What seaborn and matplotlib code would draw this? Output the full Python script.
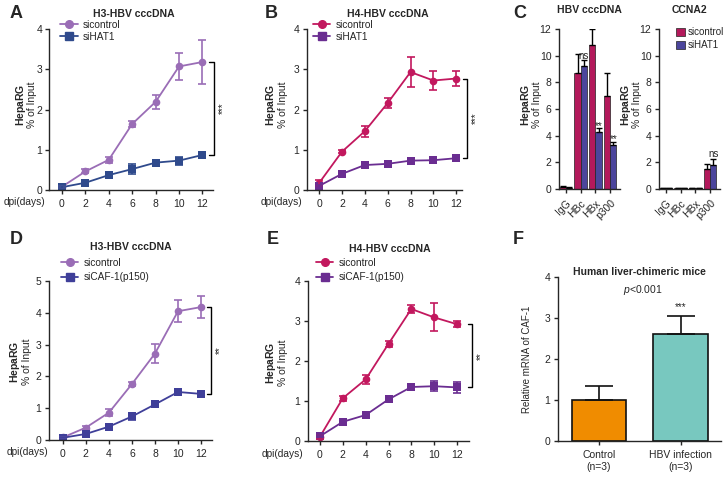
import numpy as np
import pandas as pd
import matplotlib
matplotlib.use("Agg")
import matplotlib.pyplot as plt
import seaborn as sns
from matplotlib.lines import Line2D
from matplotlib.patches import Patch

sns.set_style("ticks")
plt.rcParams['font.family'] = ['Liberation Sans', 'DejaVu Sans']
plt.rcParams['mathtext.fontset'] = 'custom'
plt.rcParams['mathtext.rm'] = 'Liberation Sans'
plt.rcParams['mathtext.bf'] = 'Liberation Sans:bold'
plt.rcParams['mathtext.it'] = 'Liberation Sans:italic'
plt.rcParams['axes.linewidth'] = 1.0
plt.rcParams['xtick.major.width'] = 1.0
plt.rcParams['ytick.major.width'] = 1.0
plt.rcParams['xtick.major.size'] = 3
plt.rcParams['ytick.major.size'] = 3
plt.rcParams['ytick.major.pad'] = 2.5
plt.rcParams['xtick.labelsize'] = 7.5
plt.rcParams['ytick.labelsize'] = 7.5

# time course data
dpi = [0, 2, 4, 6, 8, 10, 12]

a_ctrl = [0.08, 0.46, 0.75, 1.64, 2.19, 3.07, 3.18]
a_ctrl_err = [0.03, 0.05, 0.08, 0.08, 0.17, 0.34, 0.54]
a_kd = [0.07, 0.18, 0.37, 0.52, 0.68, 0.73, 0.87]
a_kd_err = [0.02, 0.03, 0.04, 0.13, 0.07, 0.10, 0.07]

b_ctrl = [0.17, 0.95, 1.46, 2.16, 2.93, 2.72, 2.77]
b_ctrl_err = [0.08, 0.04, 0.14, 0.13, 0.37, 0.24, 0.18]
b_kd = [0.10, 0.40, 0.62, 0.65, 0.73, 0.74, 0.79]
b_kd_err = [0.03, 0.04, 0.07, 0.04, 0.04, 0.04, 0.07]

d_ctrl = [0.08, 0.39, 0.86, 1.76, 2.72, 4.05, 4.18]
d_ctrl_err = [0.03, 0.05, 0.10, 0.06, 0.30, 0.35, 0.35]
d_kd = [0.07, 0.19, 0.42, 0.74, 1.12, 1.51, 1.45]
d_kd_err = [0.02, 0.05, 0.04, 0.10, 0.06, 0.07, 0.07]

e_ctrl = [0.11, 1.07, 1.54, 2.43, 3.30, 3.09, 2.92]
e_ctrl_err = [0.05, 0.06, 0.12, 0.07, 0.11, 0.35, 0.07]
e_kd = [0.12, 0.48, 0.65, 1.04, 1.35, 1.37, 1.34]
e_kd_err = [0.03, 0.03, 0.04, 0.05, 0.07, 0.13, 0.13]

# ChIP bar data
targets = ["IgG", "HBc", "HBx", "p300"]
c1_ctrl = [0.15, 8.7, 10.8, 7.0]
c1_ctrl_err = [0.05, 1.4, 1.2, 1.7]
c1_kd = [0.10, 9.2, 4.3, 3.3]
c1_kd_err = [0.05, 0.5, 0.25, 0.2]
c2_ctrl = [0.05, 0.05, 0.05, 1.5]
c2_ctrl_err = [0.0, 0.0, 0.0, 0.4]
c2_kd = [0.05, 0.05, 0.05, 1.78]
c2_kd_err = [0.0, 0.0, 0.0, 0.47]

# mouse data
groups_f = ["Control\n(n=3)", "HBV infection\n(n=3)"]
f_vals = [1.0, 2.6]
f_err = [0.35, 0.44]

W, H = 728, 478
fig = plt.figure(figsize=(W / 100, H / 100), dpi=100)


def add_ax(x0, x1, y0, y1):
    ax = fig.add_axes([x0 / W, 1 - y1 / H, (x1 - x0) / W, (y1 - y0) / H])
    ax.box_px = (x0, x1)
    return ax


def ylab(ax, xmid_px, yc):
    x0, x1 = ax.box_px
    xf = (xmid_px - x0) / (x1 - x0)
    ax.text(xf, yc, "$\\bf{HepaRG}$\n% of Input", transform=ax.transAxes, rotation=90,
            ha="center", va="center", multialignment="center", fontsize=7.5,
            linespacing=0.95)


def time_panel(ax, ctrl, ctrl_err, kd, kd_err, c1, c2, kd_name, ymax, xlim, title, tpos,
               lpos, lsp, star, bx, dlab, ylpos):
    df = pd.DataFrame({"dpi": dpi, "ctrl": ctrl, "kd": kd})
    sns.lineplot(data=df, x="dpi", y="ctrl", color=c1, marker="o", markersize=5.5,
                 markeredgewidth=0, linewidth=1.3, ax=ax, legend=False)
    sns.lineplot(data=df, x="dpi", y="kd", color=c2, marker="s", markersize=5.5,
                 markeredgewidth=0, linewidth=1.3, ax=ax, legend=False)
    ax.errorbar(dpi, ctrl, yerr=ctrl_err, fmt="none", ecolor=c1, elinewidth=1.2, capsize=3,
                capthick=1.2)
    ax.errorbar(dpi, kd, yerr=kd_err, fmt="none", ecolor=c2, elinewidth=1.2, capsize=3,
                capthick=1.2)
    ax.set_xlim(*xlim)
    ax.set_ylim(0, ymax)
    ax.set_xticks(dpi)
    ax.set_yticks(range(0, ymax + 1))
    ax.set_xlabel("")
    ax.set_ylabel("")
    sns.despine(ax=ax)
    ax.text(tpos[0], tpos[1], title, transform=ax.transAxes, ha="center", va="center",
            fontsize=7.5, fontweight="bold")
    handles = [Line2D([0], [0], color=c1, marker="o", markersize=5.5, lw=1.3),
               Line2D([0], [0], color=c2, marker="s", markersize=5.5, lw=1.3)]
    ax.legend(handles, ["sicontrol", kd_name], loc="upper left", bbox_to_anchor=lpos,
              frameon=False, fontsize=7.3, borderpad=0, handlelength=1.7, handletextpad=0.5,
              labelspacing=lsp, borderaxespad=0)
    # significance bracket
    top, bot = ctrl[-1], kd[-1]
    ax.plot([bx - 0.35, bx, bx, bx - 0.35], [top, top, bot, bot], color="black", lw=1.0,
            clip_on=False)
    ax.text(bx + 0.35, (top + bot) / 2, star, rotation=90, ha="left", va="center",
            fontsize=7, clip_on=False)
    ax.text(dlab[0], dlab[1], "dpi(days)", transform=ax.transAxes, ha="right", va="center",
            fontsize=7.3)
    ylab(ax, ylpos[0], ylpos[1])


# A
axA = add_ax(49, 213, 29, 190)
time_panel(axA, a_ctrl, a_ctrl_err, a_kd, a_kd_err, "#9a6db6", "#2f4a8c", "siHAT1", 4,
           (-1.1, 12.9), "H3-HBV cccDNA", (0.52, 1.093), (0.07, 1.058), 0.22, "***", 12.95,
           (-0.024, -0.075), (25.5, 0.53))
axA.tick_params(axis="y", pad=1.8)
# B
axB = add_ax(307, 462, 29, 190)
time_panel(axB, b_ctrl, b_ctrl_err, b_kd, b_kd_err, "#c2185e", "#6a2d91", "siHAT1", 4,
           (-1.05, 12.5), "H4-HBV cccDNA", (0.52, 1.093), (0.04, 1.058), 0.22, "***", 12.95,
           (-0.03, -0.075), (276, 0.53))
# D
axD = add_ax(49, 212, 281, 440)
time_panel(axD, d_ctrl, d_ctrl_err, d_kd, d_kd_err, "#9a6db6", "#3f3f99", "siCAF-1(p150)", 5,
           (-1.2, 12.95), "H3-HBV cccDNA", (0.5, 1.214), (0.074, 1.145), 0.42, "**", 12.85,
           (-0.006, -0.075), (20, 0.49))
# E
axE = add_ax(308, 469, 281, 441)
time_panel(axE, e_ctrl, e_ctrl_err, e_kd, e_kd_err, "#c2185e", "#6a2d91", "siCAF-1(p150)", 4,
           (-1.05, 13.05), "H4-HBV cccDNA", (0.51, 1.2), (0.05, 1.145), 0.42, "**", 13.3,
           (-0.03, -0.08), (276, 0.49))


# C
def chip_panel(ax, ctrl, ctrl_err, kd, kd_err, title, notes):
    df = pd.DataFrame({"target": targets * 2, "value": ctrl + kd,
                       "group": ["sicontrol"] * 4 + ["siHAT1"] * 4})
    sns.barplot(data=df, x="target", y="value", hue="group", palette=["#b3195b", "#4b459c"],
                width=0.86, errorbar=None, saturation=1, edgecolor="#222222", linewidth=0.5,
                ax=ax, legend=False)
    for cont, err in zip(ax.containers, [ctrl_err, kd_err]):
        xs = [b.get_x() + b.get_width() / 2 for b in cont]
        ys = [b.get_height() for b in cont]
        ax.errorbar(xs, ys, yerr=[np.zeros(len(err)), err], fmt="none", ecolor="black",
                    elinewidth=1.0, capsize=2, capthick=1.0)
    kd_x = [b.get_x() + b.get_width() / 2 for b in ax.containers[1]]
    for i, txt, yv in notes:
        ax.text(kd_x[i], yv, txt, ha="center", va="center", fontsize=7)
    ax.set_xlim(-0.48, 3.67)
    ax.set_ylim(0, 12)
    ax.set_yticks(range(0, 13, 2))
    ax.set_xlabel("")
    ax.set_ylabel("")
    ax.tick_params(axis="x", labelrotation=45)
    for t in ax.get_xticklabels():
        t.set_ha("right")
        t.set_rotation_mode("anchor")
    sns.despine(ax=ax)
    ax.text(0.5, 1.12, title, transform=ax.transAxes, ha="center", va="center", fontsize=7.5,
            fontweight="bold")
    x0 = ax.box_px[0]
    ylab(ax, x0 - 28.5, 0.525)


axC1 = add_ax(559, 620, 29, 189)
chip_panel(axC1, c1_ctrl, c1_ctrl_err, c1_kd, c1_kd_err, "HBV cccDNA",
           [(1, "ns", 9.95), (2, "**", 4.75), (3, "**", 3.75)])
axC2 = add_ax(659, 720, 29, 189)
chip_panel(axC2, c2_ctrl, c2_ctrl_err, c2_kd, c2_kd_err, "CCNA2", [(3, "ns", 2.6)])
axC2.legend([Patch(facecolor="#b3195b", edgecolor="#222222", lw=0.5),
             Patch(facecolor="#4b459c", edgecolor="#222222", lw=0.5)],
            ["sicontrol", "siHAT1"], loc="upper left", bbox_to_anchor=(0.28, 1.01),
            frameon=False, fontsize=7, borderpad=0, handlelength=0.9, handleheight=0.9,
            handletextpad=0.3, labelspacing=0.3, borderaxespad=0)

# F
axF = add_ax(558, 721, 277, 441)
dfF = pd.DataFrame({"group": groups_f, "value": f_vals})
sns.barplot(data=dfF, x="group", y="value", hue="group", palette=["#f08c00", "#78c8bf"],
            width=0.67, errorbar=None, saturation=1, edgecolor="#111111", linewidth=1.2,
            ax=axF, legend=False)
bx = [c[0].get_x() + c[0].get_width() / 2 for c in axF.containers]
axF.errorbar(bx, f_vals, yerr=[np.zeros(2), f_err], fmt="none", ecolor="#111111",
             elinewidth=1.2, capsize=10, capthick=1.2)
axF.set_xlim(-0.5, 1.49)
axF.set_ylim(0, 4)
axF.set_yticks(range(0, 5))
axF.set_xlabel("")
axF.set_ylabel("")
axF.text((527 - 558) / 163, 0.5, "Relative mRNA of CAF-1", transform=axF.transAxes,
         rotation=90, ha="center", va="center", fontsize=7)
sns.despine(ax=axF)
axF.text(0.5, 1.03, "Human liver-chimeric mice", transform=axF.transAxes, ha="center",
         va="center", fontsize=7.5, fontweight="bold")
axF.text(0.52, 0.92, "$\\it{p}$<0.001", transform=axF.transAxes, ha="center", va="center",
         fontsize=7.5)
axF.text(bx[1], 3.27, "***", ha="center", va="center", fontsize=7)

# panel letters
for lab, x, y in [("A", 10, 14), ("B", 265, 14), ("C", 513, 13),
                  ("D", 10, 239), ("E", 267, 239), ("F", 513, 239)]:
    fig.text(x / W, 1 - y / H, lab, ha="left", va="center", fontsize=13, fontweight="bold")

fig.savefig("out.png", dpi=100)
